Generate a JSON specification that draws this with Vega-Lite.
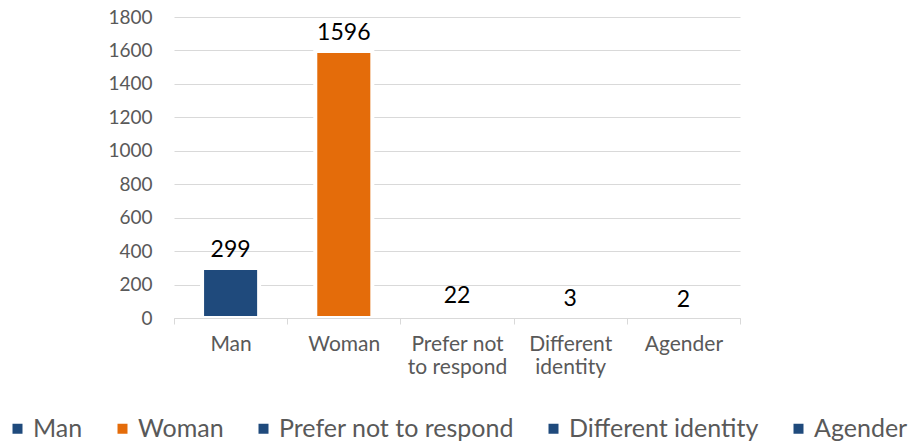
{
  "$schema": "https://vega.github.io/schema/vega-lite/v6.json",
  "autosize": {"type": "none"},
  "width": 566,
  "height": 301,
  "padding": {"left": 174, "top": 17, "right": 173, "bottom": 124},
  "background": "white",
  "data": {
    "values": [
      {"gender": "Man", "count": 299},
      {"gender": "Woman", "count": 1596},
      {"gender": "Prefer not to respond", "count": 22},
      {"gender": "Different identity", "count": 3},
      {"gender": "Agender", "count": 2}
    ]
  },
  "encoding": {
    "x": {
      "field": "gender",
      "type": "nominal",
      "sort": null,
      "scale": {"paddingInner": 0, "paddingOuter": 0},
      "axis": {
        "title": null,
        "labelAngle": 0,
        "labelFont": "Lato",
        "labelFontSize": 21,
        "labelColor": "#595959",
        "labelPadding": 9,
        "labelLineHeight": 23,
        "labelBaseline": "top",
        "labelExpr": "datum.value == 'Prefer not to respond' ? ['Prefer not', 'to respond'] : datum.value == 'Different identity' ? ['Different', 'identity'] : datum.value",
        "domainColor": "#d9d9d9",
        "domainWidth": 1,
        "tickColor": "#d9d9d9",
        "tickSize": 6,
        "tickBand": "extent",
        "grid": false,
        "zindex": 1
      }
    },
    "y": {
      "field": "count",
      "type": "quantitative",
      "scale": {"domain": [0, 1800], "nice": false},
      "axis": {
        "title": null,
        "values": [0, 200, 400, 600, 800, 1000, 1200, 1400, 1600, 1800],
        "format": "d",
        "labelFont": "Lato",
        "labelFontSize": 19,
        "labelColor": "#595959",
        "labelPadding": 22,
        "domain": false,
        "ticks": false,
        "grid": true,
        "gridColor": "#d9d9d9",
        "gridWidth": 1
      }
    }
  },
  "layer": [
    {
      "mark": {"type": "bar", "stroke": "white", "strokeWidth": 4, "width": {"band": 0.504}},
      "encoding": {
        "color": {
          "field": "gender",
          "type": "nominal",
          "sort": null,
          "scale": {
            "domain": ["Man", "Woman", "Prefer not to respond", "Different identity", "Agender"],
            "range": ["#1F4A7C", "#E46C0A", "#1F4A7C", "#1F4A7C", "#1F4A7C"]
          },
          "legend": {
            "title": null,
            "orient": "none",
            "direction": "horizontal",
            "legendX": -169,
            "legendY": 399,
            "padding": 0,
            "symbolType": "square",
            "symbolSize": 100,
            "symbolStrokeWidth": 0,
            "labelFont": "Lato",
            "labelFontSize": 25,
            "labelColor": "#595959",
            "labelOffset": 3,
            "columnPadding": 27,
            "labelLimit": 400
          }
        }
      }
    },
    {
      "mark": {"type": "text", "font": "Lato", "fontSize": 23, "color": "black", "baseline": "alphabetic", "dy": -11},
      "encoding": {
        "text": {"field": "count", "type": "quantitative"}
      }
    }
  ],
  "config": {"view": {"stroke": null}}
}
